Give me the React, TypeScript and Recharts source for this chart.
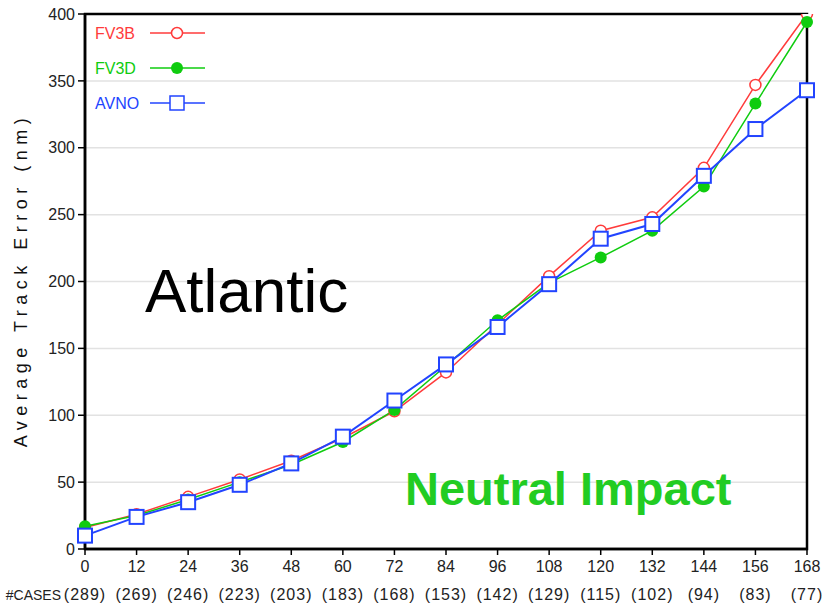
import { LineChart, Line, XAxis, YAxis, CartesianGrid, ReferenceArea, Customized } from 'recharts';

const leadHours = [0, 12, 24, 36, 48, 60, 72, 84, 96, 108, 120, 132, 144, 156, 168];
const caseCounts = [289, 269, 246, 223, 203, 183, 168, 153, 142, 129, 115, 102, 94, 83, 77];
const fv3b = [16, 26, 39, 52, 66, 83, 103, 132, 168, 204, 238, 248, 285, 347, 400];
const fv3d = [17, 25, 37, 50, 63, 80, 104, 137, 171, 199, 218, 238, 271, 333, 394];
const avno = [10, 24, 35, 48, 64, 84, 111, 138, 166, 198, 232, 243, 279, 314, 343];
const yTicks = [0, 50, 100, 150, 200, 250, 300, 350, 400];

const data = leadHours.map((h, i) => ({ h, fv3b: fv3b[i], fv3d: fv3d[i], avno: avno[i] }));

const RED = '#ff3b3b';
const GREEN = '#0fcc0f';
const BLUE = '#2244ff';
const FONT = '"Liberation Sans", Arial, sans-serif';

const legendItems = [
  { name: 'FV3B', color: RED, marker: 'open-circle' },
  { name: 'FV3D', color: GREEN, marker: 'dot' },
  { name: 'AVNO', color: BLUE, marker: 'square' },
];

function XTick(props: any) {
  const { x, y, payload } = props;
  const idx = leadHours.indexOf(payload.value);
  return (
    <g fontFamily={FONT}>
      <text x={x} y={y + 15} textAnchor="middle" fontSize={16} fill="#222">{payload.value}</text>
      <text x={x} y={y + 43} textAnchor="middle" fontSize={16} letterSpacing={1} fill="#222">({caseCounts[idx]})</text>
      {idx === 0 && (
        <text x={x - 24} y={y + 43} textAnchor="end" fontSize={14} fill="#222">#CASES</text>
      )}
    </g>
  );
}

function SquareDot(props: any) {
  const { cx, cy } = props;
  if (cx == null || cy == null) return null;
  return <rect x={cx - 7} y={cy - 7} width={14} height={14} fill="#fff" stroke={BLUE} strokeWidth={2} />;
}

function Annotations() {
  return (
    <g fontFamily={FONT}>
      {legendItems.map((it, i) => {
        const cy = 33 + i * 35;
        return (
          <g key={it.name}>
            <text x={95} y={cy + 6} fontSize={16} fill={it.color}>{it.name}</text>
            <line x1={150} y1={cy} x2={205} y2={cy} stroke={it.color} strokeWidth={1.5} />
            {it.marker === 'open-circle' && <circle cx={177} cy={cy} r={5.5} fill="#fff" stroke={it.color} strokeWidth={1.5} />}
            {it.marker === 'dot' && <circle cx={177} cy={cy} r={6} fill={it.color} />}
            {it.marker === 'square' && <rect x={170} y={cy - 7} width={14} height={14} fill="#fff" stroke={it.color} strokeWidth={1.5} />}
          </g>
        );
      })}
      <text x={22} y={280} transform="rotate(-90 22 280)" textAnchor="middle" dominantBaseline="middle" fontSize={18} letterSpacing={5.5} fill="#111">
        Average Track Error (nm)
      </text>
      <text x={145} y={312} fontSize={62} fill="#000">Atlantic</text>
      <text x={405} y={505} fontSize={47} fontWeight="bold" fill="#22cc22">Neutral Impact</text>
    </g>
  );
}

export default function App() {
  return (
    <div style={{ position: 'absolute', left: 0, top: 0, width: 823, height: 612, background: '#fff' }}>
      <LineChart width={823} height={612} data={data} margin={{ top: 14, right: 16, left: 45, bottom: 8 }}>
        <CartesianGrid vertical={false} stroke="#e2e2e2" strokeWidth={1.5} />
        <XAxis
          dataKey="h"
          type="number"
          domain={[0, 168]}
          ticks={leadHours}
          height={55}
          tickSize={6}
          tickMargin={2}
          tick={<XTick />}
          axisLine={{ stroke: '#000', strokeWidth: 2.5 }}
          tickLine={{ stroke: '#000', strokeWidth: 1.5 }}
          interval={0}
        />
        <YAxis
          type="number"
          domain={[0, 400]}
          ticks={yTicks}
          width={40}
          tickSize={7}
          tickMargin={3}
          allowDataOverflow
          tick={{ fill: '#222', fontSize: 16, fontFamily: FONT }}
          axisLine={{ stroke: '#000', strokeWidth: 2.5 }}
          tickLine={{ stroke: '#000', strokeWidth: 1.5 }}
          interval={0}
        />
        <ReferenceArea x1={0} x2={168} y1={0} y2={400} fill="none" stroke="#000" strokeWidth={2.5} ifOverflow="visible" />
        <Line
          dataKey="fv3b"
          stroke={RED}
          strokeWidth={1.5}
          isAnimationActive={false}
          dot={{ r: 5.5, fill: '#fff', stroke: RED, strokeWidth: 1.5 }}
        />
        <Line
          dataKey="fv3d"
          stroke={GREEN}
          strokeWidth={1.5}
          isAnimationActive={false}
          dot={{ r: 6, fill: GREEN, stroke: GREEN, strokeWidth: 0 }}
        />
        <Line
          dataKey="avno"
          stroke={BLUE}
          strokeWidth={2}
          isAnimationActive={false}
          dot={<SquareDot />}
        />
        <Customized component={Annotations} />
      </LineChart>
    </div>
  );
}
